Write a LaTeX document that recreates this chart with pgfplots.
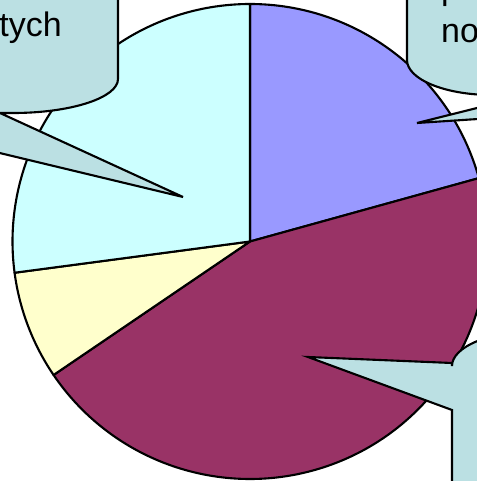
\documentclass[border=0pt]{standalone}
\usepackage{pgfplots}
\usepackage{pgfplotstable}
\pgfplotsset{compat=1.18}
\usepackage{fontspec}
\setmainfont{Liberation Sans}

\definecolor{sliceblue}{HTML}{9999FF}
\definecolor{slicemaroon}{HTML}{993366}
\definecolor{sliceyellow}{HTML}{FFFFCC}
\definecolor{slicecyan}{HTML}{CCFFFF}
\definecolor{callout}{HTML}{BBE0E3}

% shares in percent, clockwise from 12 o'clock
\pgfplotstableread{
slice value
1 20.7
2 44.8
3 7.4
4 27.1
}\piedata

\begin{document}
\begin{tikzpicture}
  % angles from the table
  \pgfplotstablegetelem{0}{value}\of\piedata \pgfmathsetmacro\va{\pgfplotsretval}
  \pgfplotstablegetelem{1}{value}\of\piedata \pgfmathsetmacro\vb{\pgfplotsretval}
  \pgfplotstablegetelem{2}{value}\of\piedata \pgfmathsetmacro\vc{\pgfplotsretval}
  \pgfplotstablegetelem{3}{value}\of\piedata \pgfmathsetmacro\vd{\pgfplotsretval}
  \pgfmathsetmacro\aA{90}
  \pgfmathsetmacro\aB{\aA-3.6*\va}
  \pgfmathsetmacro\aC{\aB-3.6*\vb}
  \pgfmathsetmacro\aD{\aC-3.6*\vc}
  \pgfmathsetmacro\aE{\aD-3.6*\vd}
  \def\R{7.125cm}
  \begin{axis}[
      scale only axis,
      width=14.31cm,
      height=14.43cm,
      xmin=0, xmax=477,
      ymin=0, ymax=481,
      hide axis,
      clip=true,
  ]
    \begin{scope}[line width=1.8pt, line join=round]
      \filldraw[fill=sliceblue] (axis cs:250,239.5) -- ++(\aA:\R)
        arc[start angle=\aA, end angle=\aB, radius=\R] -- cycle;
      \filldraw[fill=slicemaroon] (axis cs:250,239.5) -- ++(\aB:\R)
        arc[start angle=\aB, end angle=\aC, radius=\R] -- cycle;
      \filldraw[fill=sliceyellow] (axis cs:250,239.5) -- ++(\aC:\R)
        arc[start angle=\aC, end angle=\aD, radius=\R] -- cycle;
      \filldraw[fill=slicecyan] (axis cs:250,239.5) -- ++(\aD:\R)
        arc[start angle=\aD, end angle=\aE, radius=\R] -- cycle;
    \end{scope}

    % callouts
    \begin{scope}[line width=1.8pt, line join=miter, fill=callout]
      \filldraw (axis cs:-250,520) -- (axis cs:118,520) -- (axis cs:118,402)
        arc[start angle=0, end angle=-90, x radius=3.15cm, y radius=1.02cm]
        -- (axis cs:0,368) -- (axis cs:183,284) -- (axis cs:-167,368)
        -- (axis cs:-250,368) -- cycle;
      \filldraw (axis cs:407,520) -- (axis cs:407,421)
        arc[start angle=180, end angle=270, x radius=2.55cm, y radius=1.05cm]
        -- (axis cs:529,386) -- (axis cs:417,358) -- (axis cs:600,370)
        -- (axis cs:600,520) -- cycle;
      \filldraw (axis cs:452,-30) -- (axis cs:452,71) -- (axis cs:308,124)
        -- (axis cs:452,118) -- (axis cs:452,115)
        arc[start angle=180, end angle=90, x radius=2.55cm, y radius=1.05cm]
        -- (axis cs:600,150) -- (axis cs:600,-30) -- cycle;
    \end{scope}

    \node[anchor=base east, inner sep=0pt, font=\fontsize{29}{35}\selectfont]
      at (axis cs:62,444) {tych};
    \node[anchor=base west, inner sep=0pt, font=\fontsize{29}{35}\selectfont]
      at (axis cs:441,481) {p};
    \node[anchor=base west, inner sep=0pt, font=\fontsize{29}{35}\selectfont]
      at (axis cs:441,438) {no};
  \end{axis}
  \pgfresetboundingbox
  \path[use as bounding box] (current axis.south west) rectangle (current axis.north east);
\end{tikzpicture}
\end{document}
